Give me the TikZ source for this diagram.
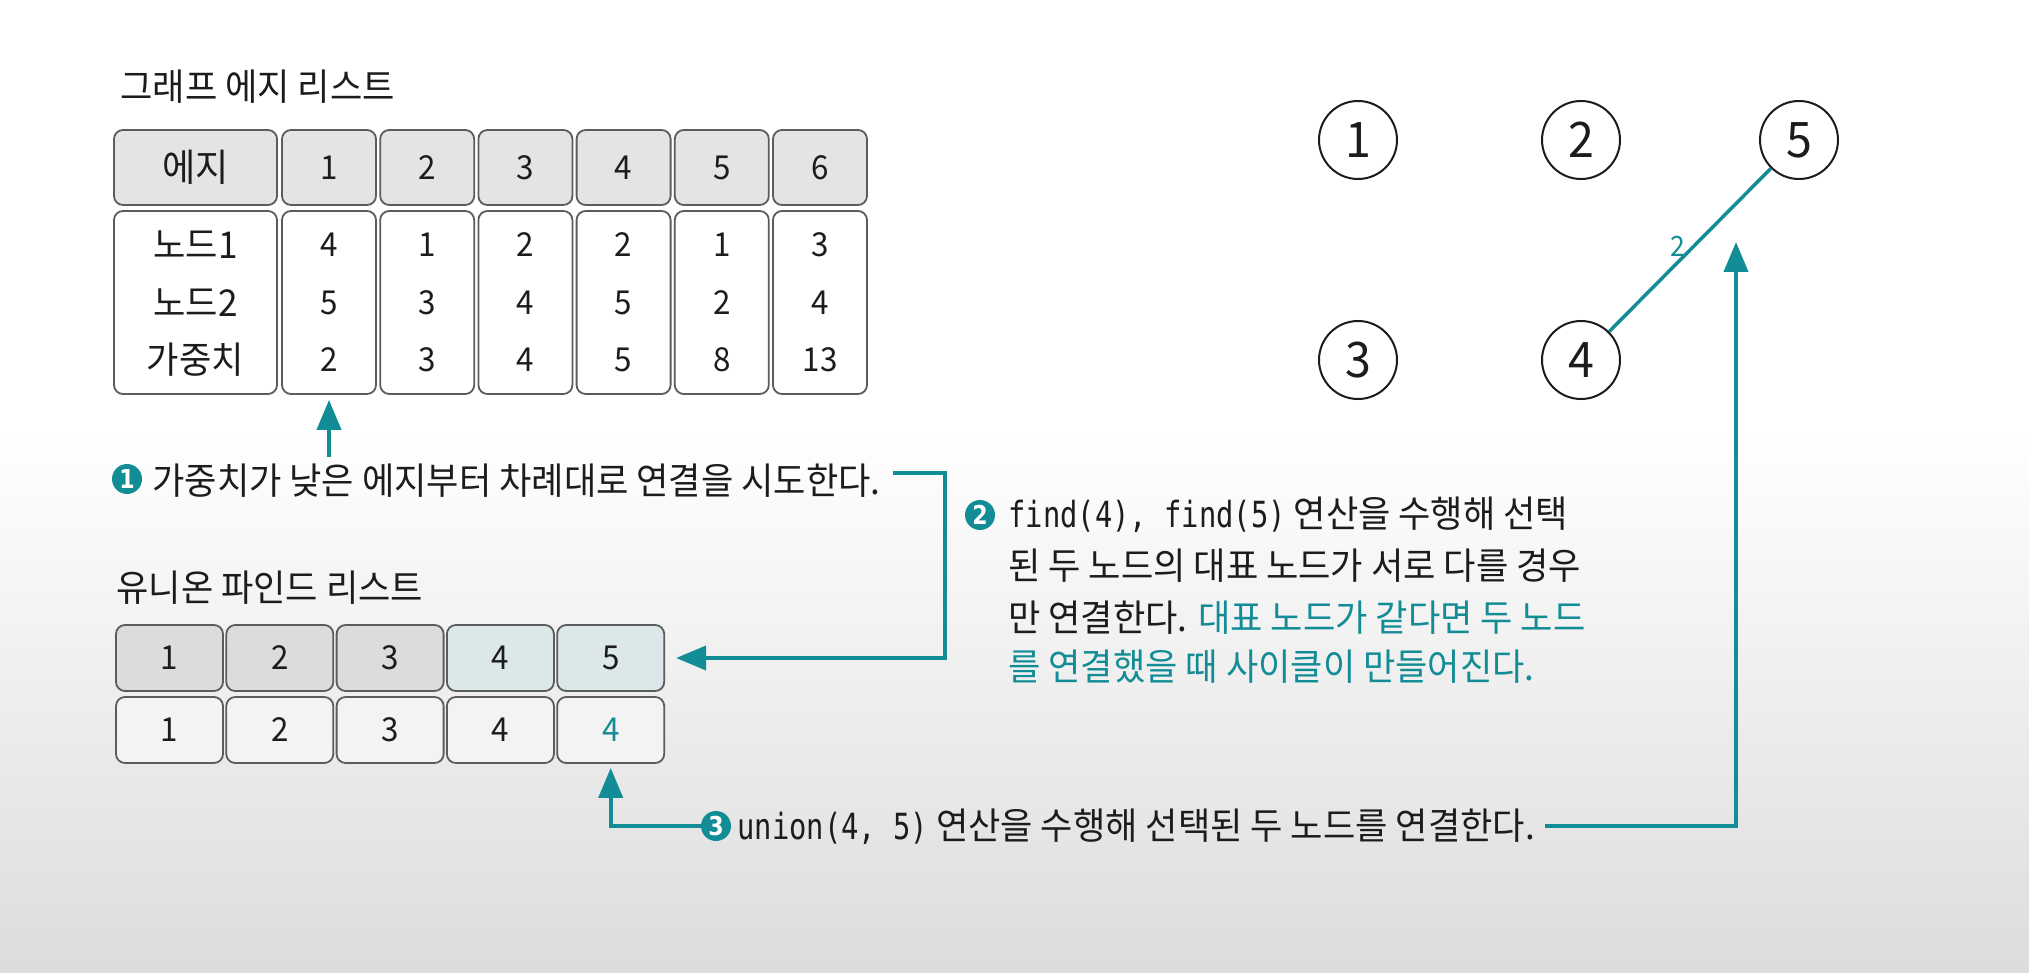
\documentclass[tikz,border=0pt]{standalone}
\usepackage{fontspec}
\setmainfont{Noto Sans CJK KR}[FakeStretch=0.95]
\newfontfamily\codefont{DejaVu Sans Mono}[FakeStretch=0.8]
\newfontfamily\numfont{DejaVu Sans}[FakeStretch=0.85]
\usetikzlibrary{arrows.meta,calc}
\definecolor{teal1}{HTML}{128C95}
\definecolor{ink}{HTML}{1C1C1C}
\definecolor{bord}{HTML}{5C5C5C}
\definecolor{hdrfill}{HTML}{E4E4E4}
\definecolor{ufgray}{HTML}{DCDCDC}
\definecolor{ufblue}{HTML}{DCE7EA}
\definecolor{ufrow}{HTML}{F3F3F3}
\definecolor{bggray}{HTML}{DCDCDC}
\newcommand\cde[1]{{\codefont\fontsize{18pt}{20pt}\selectfont #1}}
\begin{document}
\begin{tikzpicture}[x=0.5pt,y=-0.5pt,
  cell/.style={draw=bord, line width=0.9pt, rounded corners=4.5pt, inner sep=0pt, text=ink,
    font=\fontsize{16.5pt}{18pt}\selectfont},
  tabtxt/.style={inner sep=0pt, text=ink, font=\fontsize{16.5pt}{18pt}\selectfont},
  tabko/.style={inner sep=0pt, text=ink, font=\fontsize{18.5pt}{20pt}\selectfont},
  ttl/.style={inner sep=0pt, text=ink, anchor=west, font=\fontsize{18.5pt}{21pt}\selectfont},
  body/.style={inner sep=0pt, text=ink, anchor=west, font=\fontsize{18.5pt}{22pt}\selectfont},
  stepc/.style={circle, fill=teal1, text=white, inner sep=0pt, minimum size=15pt,
    font=\numfont\bfseries\fontsize{13pt}{14pt}\selectfont},
  gnode/.style={circle, draw=ink, line width=1pt, inner sep=0pt, minimum size=39pt, text=ink,
    font=\fontsize{24.5pt}{26pt}\selectfont},
  arr/.style={draw=teal1, line width=2pt, -{Triangle[length=15pt,width=12pt]}}
]
\useasboundingbox (0,0) rectangle (2029,973);
\fill[white] (0,0) rectangle (2029,973);
\shade[top color=white, bottom color=bggray] (0,430) rectangle (2029,973);

% titles
\node[ttl] (t1) at (120,87) {그래프 에지 리스트};
\node[ttl] (t2) at (116,588) {유니온 파인드 리스트};

% edge table
\node[cell, fill=hdrfill, minimum width=81.5pt, minimum height=37.5pt, font=\fontsize{19pt}{20pt}\selectfont] (eh0) at (195.5,167.5) {에지};
\node[cell, fill=white, minimum width=81.5pt, minimum height=91.5pt] (ed0) at (195.5,302.5) {};
\node[tabko] (eva0) at (195.5,245) {노드1};
\node[tabko] (evb0) at (195.5,303) {노드2};
\node[tabko] (evc0) at (195.5,360) {가중치};
\foreach \k/\a/\b/\c in {1/4/5/2, 2/1/3/3, 3/2/4/4, 4/2/5/5, 5/1/2/8, 6/3/4/13} {
  \pgfmathsetmacro\cx{329+98.2*(\k-1)}
  \node[cell, fill=hdrfill, minimum width=47pt, minimum height=37.5pt] (eh\k) at (\cx,167.5) {\k};
  \node[cell, fill=white, minimum width=47pt, minimum height=91.5pt] (ed\k) at (\cx,302.5) {};
  \node[tabtxt] (eva\k) at (\cx,245) {\a};
  \node[tabtxt] (evb\k) at (\cx,303) {\b};
  \node[tabtxt] (evc\k) at (\cx,360) {\c};
}

% union-find table
\foreach \k/\f in {1/ufgray, 2/ufgray, 3/ufgray, 4/ufblue, 5/ufblue} {
  \pgfmathsetmacro\ux{169.5+110.3*(\k-1)}
  \node[cell, fill=\f, minimum width=53.5pt, minimum height=33pt] (ufA\k) at (\ux,658) {\k};
}
\foreach \k in {1,2,3,4} {
  \pgfmathsetmacro\ux{169.5+110.3*(\k-1)}
  \node[cell, fill=ufrow, minimum width=53.5pt, minimum height=33pt] (ufB\k) at (\ux,730) {\k};
}
\node[cell, fill=ufrow, minimum width=53.5pt, minimum height=33pt, text=teal1] (ufB5) at (610.7,730) {4};

% graph
\node[gnode] (n1) at (1358,140) {1};
\node[gnode] (n2) at (1581,140) {2};
\node[gnode] (n5) at (1799,140) {5};
\node[gnode] (n3) at (1358,360) {3};
\node[gnode] (n4) at (1581,360) {4};
\draw[teal1, line width=1.75pt] (n4) -- (n5)
  node[pos=0.52, anchor=east, inner sep=3pt, text=teal1, font=\fontsize{14pt}{16pt}\selectfont] (w45) {2};

% step texts
\node[body] (s1t) at (152,481) {가중치가 낮은 에지부터 차례대로 연결을 시도한다.};
\node[body] (s2a) at (1008,515) {\cde{find(4), find(5)} 연산을 수행해 선택};
\node[body] (s2b) at (1008,566) {된 두 노드의 대표 노드가 서로 다를 경우};
\node[body] (s2c) at (1008,618) {만 연결한다. {\color{teal1}대표 노드가 같다면 두 노드}};
\node[body, text=teal1] (s2d) at (1008,667) {를 연결했을 때 사이클이 만들어진다.};
\node[body] (s3t) at (737,827) {\cde{union(4, 5)} 연산을 수행해 선택된 두 노드를 연결한다.};

% connectors
\coordinate (a1s) at (329,457);
\draw[arr, shorten >=2.5pt] (a1s) -- (ed1.south);
\coordinate (s1e) at ([xshift=6pt]s1t.east);
\coordinate (k1) at (945,473);
\draw[arr, shorten >=5.5pt] (s1e |- k1) -- (k1) |- (ufA5.east);
\node[stepc] (s3c) at (716,826) {3};
\coordinate (s3e) at ([xshift=5pt]s3t.east);
\coordinate (tip) at (1736,242);
\draw[arr] (s3e |- s3c) -| (tip);
\draw[arr, shorten >=2pt] (s3c.west) -| (ufB5.south);

% step markers
\node[stepc] (s1c) at (127,479) {1};
\node[stepc] (s2c0) at (980,515) {2};
\end{tikzpicture}
\end{document}
